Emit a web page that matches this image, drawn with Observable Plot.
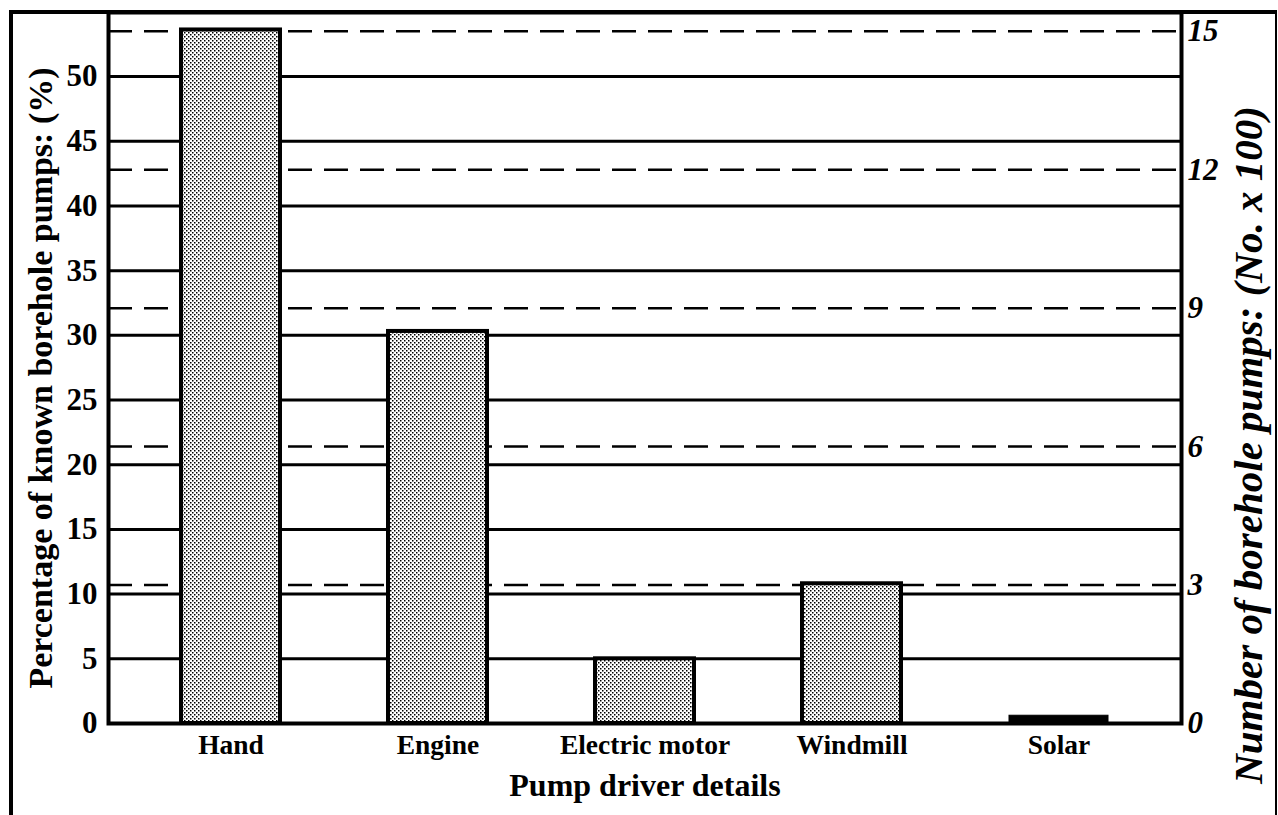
<!DOCTYPE html>
<html><head><meta charset="utf-8">
<script src="https://cdn.jsdelivr.net/npm/d3@7"></script>
<script src="https://cdn.jsdelivr.net/npm/@observablehq/plot@0.6"></script>
<style>
html,body{margin:0;padding:0;background:#fff;overflow:hidden;}
#wrap{position:relative;width:1278px;height:815px;}
#chart{position:absolute;left:0;top:0;}
#border{position:absolute;left:9px;top:10px;width:1268px;height:830px;border-left:4px solid #000;border-top:4px solid #000;border-right:2px solid #000;box-sizing:border-box;pointer-events:none;}
</style></head><body>
<div id="wrap"><div id="chart"></div><div id="border"></div></div>
<script>
// ---- data ----
const drivers = ["Hand", "Engine", "Electric motor", "Windmill", "Solar"];
const percentages = [53.6, 30.3, 5.0, 10.8, 0.6];
const leftTicks = [0, 5, 10, 15, 20, 25, 30, 35, 40, 45, 50];
const rightTicks = [0, 3, 6, 9, 12, 15];
const rightMax = 15;        // right-axis value (No. x 100)
const rightMaxPct = 53.5;   // equivalent percentage on the left axis
const leftTitle = "Percentage of known borehole pumps: (%)";
const rightTitle = "Number of borehole pumps: (No. x 100)";
const xTitle = "Pump driver details";

const data = drivers.map((d, i) => ({driver: d, pct: percentages[i]}));
const toPct = r => r * rightMaxPct / rightMax;

const chart = Plot.plot({
  width: 1278, height: 815,
  marginLeft: 108, marginRight: 97, marginTop: 12, marginBottom: 92,
  style: {fontFamily: "'Liberation Serif','Times New Roman',serif", background: "transparent", color: "#000"},
  x: {domain: drivers, paddingInner: 0.523, paddingOuter: 0.349, label: null},
  y: {domain: [0, 54.95], label: null},
  marks: [
    Plot.ruleY(leftTicks.filter(v => v > 0), {stroke: "#000", strokeWidth: 3}),
    Plot.ruleY(rightTicks.filter(v => v > 0).map(toPct), {stroke: "#000", strokeWidth: 2.5, strokeDasharray: "24,12"}),
    Plot.barY(data, {filter: d => d.driver !== "Solar", x: "driver", y: "pct", fill: "url(#stipple)", stroke: "#000", strokeWidth: 4}),
    Plot.barY(data, {filter: d => d.driver === "Solar", x: "driver", y: "pct", fill: "#000", stroke: "#000", strokeWidth: 1}),
    Plot.frame({stroke: "#000", strokeWidth: 4}),
    Plot.axisY(leftTicks, {anchor: "left", tickSize: 0, tickPadding: 11, fontSize: 31, fontWeight: "bold", label: null}),
    Plot.axisY(rightTicks.map(toPct), {anchor: "right", tickSize: 0, tickPadding: 6,
      tickFormat: v => String(Math.round(v * rightMax / rightMaxPct)),
      fontSize: 31, fontWeight: "bold", fontStyle: "italic", label: null}),
    Plot.axisX({anchor: "bottom", tickSize: 0, tickPadding: 11, fontSize: 27.5, fontWeight: "bold", label: null}),
    Plot.text([leftTitle], {text: d => d, frameAnchor: "left", textAnchor: "middle", lineAnchor: "middle", dx: -67, dy: 10, rotate: -90, fontSize: 34, fontWeight: "bold", fill: "#000"}),
    Plot.text([rightTitle], {text: d => d, frameAnchor: "right", textAnchor: "middle", lineAnchor: "middle", dx: 67, dy: 77, rotate: -90, fontSize: 41, fontWeight: "bold", fontStyle: "italic", fill: "#000"}),
    Plot.text([xTitle], {text: d => d, frameAnchor: "bottom", textAnchor: "middle", lineAnchor: "middle", dy: 62, fontSize: 32, fontWeight: "bold", fill: "#000"})
  ]
});

const svg = d3.select(chart);
const defs = svg.insert("defs", ":first-child");
const pat = defs.append("pattern").attr("id", "stipple").attr("patternUnits", "userSpaceOnUse").attr("width", 4).attr("height", 4);
pat.append("rect").attr("width", 4).attr("height", 4).attr("fill", "#fff");
pat.append("rect").attr("x", 0).attr("y", 0).attr("width", 1.5).attr("height", 1.5).attr("fill", "#000");
pat.append("rect").attr("x", 2).attr("y", 2).attr("width", 1.5).attr("height", 1.5).attr("fill", "#000");

document.getElementById("chart").appendChild(chart);
</script>
</body></html>
